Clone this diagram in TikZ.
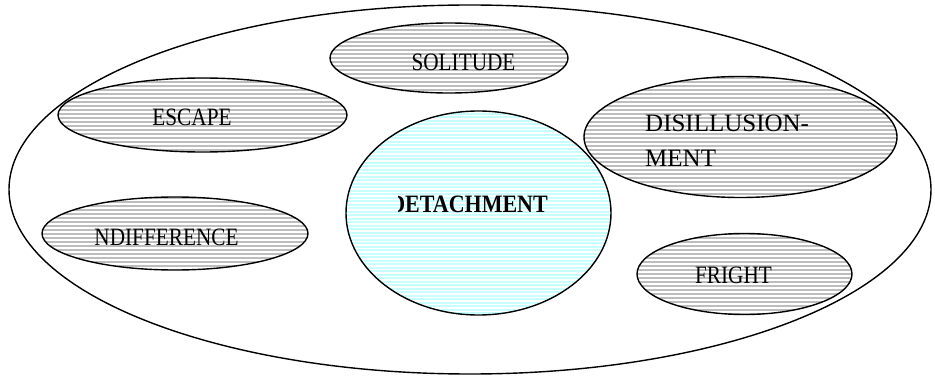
\documentclass[tikz,border=0pt]{standalone}
\usepackage{fontspec}
\setmainfont{Liberation Serif}
\usetikzlibrary{shapes.geometric}
\definecolor{stripegray}{HTML}{BDBDBD}
\definecolor{stripecyan}{HTML}{C8FFFF}
\tikzset{
  ovalbase/.style={ellipse, inner sep=0pt},
  ovalline/.style={draw=black, line width=1.4pt},
  stripe/.style={white, line width=1.2pt},
  lbl/.style={inner sep=0pt, font=\fontsize{25}{30}\selectfont},
}
% name, cx, cy, width, height, fill colour, stripe step
\newcommand{\stripedoval}[7]{%
  \node[ovalbase, fill=#6, minimum width=#4pt, minimum height=#5pt] (#1) at (#2,#3) {};
  \begin{scope}
    \clip (#2,#3) ellipse [x radius=#4/2, y radius=#5/2];
    \foreach \yy in {0,#7,...,380} \draw[stripe] (#2-#4/2,\yy) -- (#2+#4/2,\yy);
  \end{scope}
  \draw[ovalline] (#1.center) ellipse [x radius=#4/2, y radius=#5/2];
}
\newcommand{\cond}[1]{\scalebox{0.85}[1]{#1}}
\begin{document}
\begin{tikzpicture}[x=1pt,y=-1pt]
\useasboundingbox (0,0) rectangle (935,377);
\node[ovalbase, ovalline, minimum width=922pt, minimum height=369pt] (outer) at (470,189.5) {};
\stripedoval{solitude}{449}{58}{238}{70}{stripegray}{4}
\stripedoval{escape}{202.5}{115}{289}{74}{stripegray}{4}
\stripedoval{disill}{740.5}{137}{313}{121}{stripegray}{4}
\stripedoval{indiff}{175}{233.5}{266}{73}{stripegray}{4}
\stripedoval{fright}{744.5}{274}{215}{81}{stripegray}{4}
\stripedoval{detach}{478.5}{213}{265}{204}{stripecyan}{3.5}
\node[lbl, anchor=base] (tsol) at (463.5,71) {\cond{SOLITUDE}};
\node[lbl, anchor=base] (tesc) at (192,126) {\cond{ESCAPE}};
\node[lbl, anchor=base] (tind) at (166.5,245) {\cond{NDIFFERENCE}};
\node[lbl, anchor=base] (tfri) at (733.5,283) {\cond{FRIGHT}};
\node[lbl, anchor=base west] (tdis1) at (645,132) {DISILLUSION-};
\node[lbl, anchor=base west] (tdis2) at (645,167) {MENT};
\begin{scope}
\clip (398,150) rectangle (600,260);
\node[lbl, anchor=base east] (tdet) at (548,212) {\scalebox{0.88}[1]{\bfseries DETACHMENT}};
\end{scope}
\end{tikzpicture}
\end{document}
